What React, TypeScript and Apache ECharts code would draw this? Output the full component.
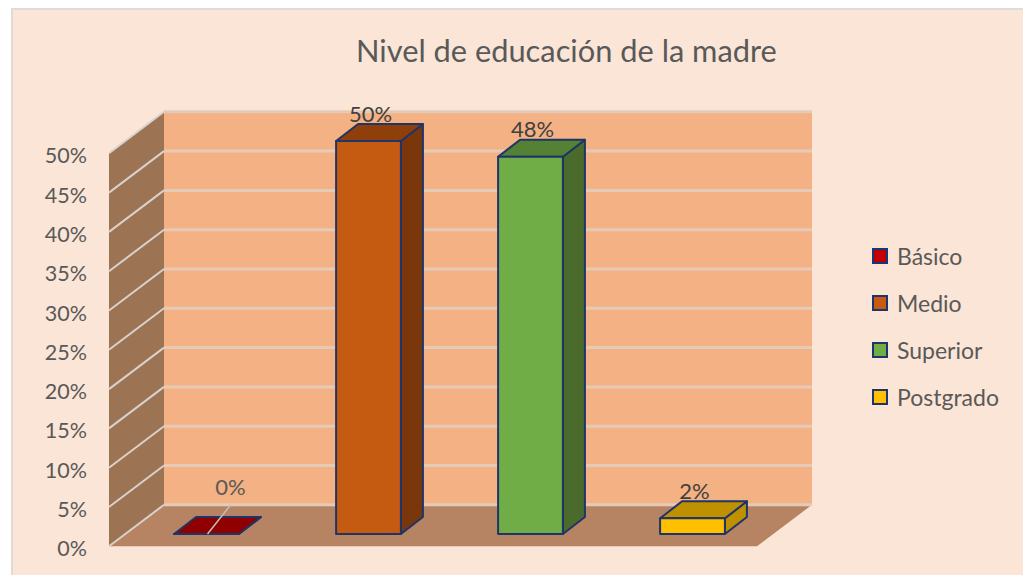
import React, { useEffect, useRef } from "react";
import * as echarts from "echarts";

const titleText = "Nivel de educación de la madre";
const categories = ["Básico", "Medio", "Superior", "Postgrado"];
const values = [0, 50, 48, 2];
const yTicks = [0, 5, 10, 15, 20, 25, 30, 35, 40, 45, 50];
const frontColors = ["#C00000", "#C55A11", "#70AD47", "#FFC000"];
const topColors = ["#900000", "#8F3F0A", "#548235", "#BF9000"];
const sideColors = ["#7A0000", "#7A370B", "#4A6B2C", "#BF9000"];

const FONT = "Lato, 'Noto Sans', sans-serif";
const NAVY = "#1F3468";
const WALL_DX = 55;
const WALL_DY = -41.5;
const BAR_DX = 22;
const BAR_DY = -17;

const poly = (points: number[][], fill: string, stroke?: string, lineWidth = 0, z2 = 0) => ({
  type: "polygon",
  z2,
  shape: { points },
  style: { fill, stroke: stroke ?? "none", lineWidth, lineJoin: "round" },
});

const wallsItem = (_p: any, api: any) => {
  const [x0, y0] = api.coord([0, 0]);
  const y50 = api.coord([0, 50])[1];
  const size = api.size([1, 0])[0];
  const left = x0 - size / 2;
  const right = left + size * categories.length;
  return {
    type: "group",
    children: [
      poly([[left, y0], [left + WALL_DX, y0 + WALL_DY], [left + WALL_DX, y50 + WALL_DY], [left, y50]], "#9C7353"),
      poly([[left + WALL_DX, y0 + WALL_DY], [right + WALL_DX, y0 + WALL_DY], [right + WALL_DX, y50 + WALL_DY], [left + WALL_DX, y50 + WALL_DY]], "#F4B183"),
      poly([[left, y0], [left + WALL_DX, y0 + WALL_DY], [right + WALL_DX, y0 + WALL_DY], [right, y0]], "#B78463"),
    ],
  };
};

const gridItem = (_p: any, api: any) => {
  const [x0, y] = api.coord([0, api.value(1)]);
  const size = api.size([1, 0])[0];
  const left = x0 - size / 2;
  const right = left + size * categories.length;
  return {
    type: "group",
    children: [
      { type: "line", shape: { x1: left, y1: y, x2: left + WALL_DX, y2: y + WALL_DY }, style: { stroke: "#D9D2CC", lineWidth: 2 } },
      { type: "line", shape: { x1: left + WALL_DX, y1: y + WALL_DY, x2: right + WALL_DX, y2: y + WALL_DY }, style: { stroke: "#E3CBB8", lineWidth: 3 } },
    ],
  };
};

const barItem = (i: number) => (_p: any, api: any) => {
  const v = api.value(1);
  const [cx, yBase] = api.coord([api.value(0), 0]);
  const yTop = api.coord([api.value(0), v])[1];
  const band = api.size([1, 0])[0];
  const w = band * 0.4;
  const ox = (WALL_DX - BAR_DX) / 2;
  const oy = (WALL_DY - BAR_DY) / 2;
  const x1 = cx + ox - w / 2;
  const x2 = cx + ox + w / 2;
  const b = yBase + oy;
  const t = yTop + oy;
  const children: any[] = [
    poly([[x2, b], [x2 + BAR_DX, b + BAR_DY], [x2 + BAR_DX, t + BAR_DY], [x2, t]], sideColors[i], NAVY, 2),
    poly([[x1, t], [x2, t], [x2 + BAR_DX, t + BAR_DY], [x1 + BAR_DX, t + BAR_DY]], topColors[i], NAVY, 2),
    poly([[x1, b], [x2, b], [x2, t], [x1, t]], frontColors[i], NAVY, 2),
  ];
  const isZero = v === 0;
  const labelX = cx + ox + (isZero ? 24 : 2);
  const labelY = t + BAR_DY + (isZero ? -31 : -11);
  if (isZero) {
    children.push({
      type: "line",
      z2: 5,
      shape: { x1: cx + ox + 1, y1: b, x2: labelX, y2: labelY + 19 },
      style: { stroke: "#BFBFBF", lineWidth: 1.5 },
    });
  }
  children.push({
    type: "text",
    z2: 6,
    style: {
      text: `${v}%`,
      x: labelX,
      y: labelY,
      fill: isZero ? "#595959" : "#404040",
      font: `22px ${FONT}`,
      align: "center",
      verticalAlign: "middle",
    },
  });
  return { type: "group", children };
};

export default function App() {
  const ref = useRef<HTMLDivElement>(null);
  useEffect(() => {
    document.body.style.margin = "0";
    const chart = echarts.init(ref.current!, undefined, { renderer: "svg" });
    chart.setOption({
      animation: false,
      graphic: [
        {
          type: "rect",
          z: -10,
          shape: { x: 12, y: 9, width: 1020, height: 580 },
          style: { fill: "#FBE5D6", stroke: "#DEDBD8", lineWidth: 2 },
        },
      ],
      title: {
        text: titleText,
        left: 351,
        top: 30,
        textStyle: { fontFamily: FONT, fontSize: 30.8, fontWeight: "normal", color: "#595959" },
      },
      legend: {
        orient: "vertical",
        left: 867,
        top: 239,
        icon: "rect",
        itemWidth: 14,
        itemHeight: 14,
        itemGap: 23,
        data: categories,
        selectedMode: false,
        textStyle: { fontFamily: FONT, fontSize: 23, color: "#595959", lineHeight: 24, padding: [0, 0, 0, 5] },
      },
      grid: { left: 109, top: 153.3, width: 648, height: 393 },
      xAxis: {
        type: "category",
        data: categories,
        axisLine: { show: false },
        axisTick: { show: false },
        axisLabel: { show: false },
        splitLine: { show: false },
      },
      yAxis: {
        type: "value",
        min: 0,
        max: 50,
        interval: 5,
        axisLine: { show: false },
        axisTick: { show: false },
        splitLine: { show: false },
        axisLabel: { formatter: "{value}%", margin: 22, fontFamily: FONT, fontSize: 21.5, color: "#595959", lineHeight: 4, verticalAlign: "top" },
      },
      series: [
        { type: "custom", name: "walls", silent: true, z: 1, renderItem: wallsItem, data: [[0, 0]], encode: { x: 0, y: 1 } },
        { type: "custom", name: "gridlines", silent: true, z: 2, renderItem: gridItem, data: yTicks.map((t) => [0, t]), encode: { x: 0, y: 1 } },
        ...categories.map((name, i) => ({
          type: "custom",
          name,
          z: 3,
          renderItem: barItem(i),
          data: [[i, values[i]]],
          encode: { x: 0, y: 1 },
          itemStyle: { color: frontColors[i], borderColor: NAVY, borderWidth: 2 },
        })),
      ],
    });
    return () => chart.dispose();
  }, []);
  return <div ref={ref} style={{ position: "absolute", left: 0, top: 0, width: 1023, height: 575 }} />;
}
